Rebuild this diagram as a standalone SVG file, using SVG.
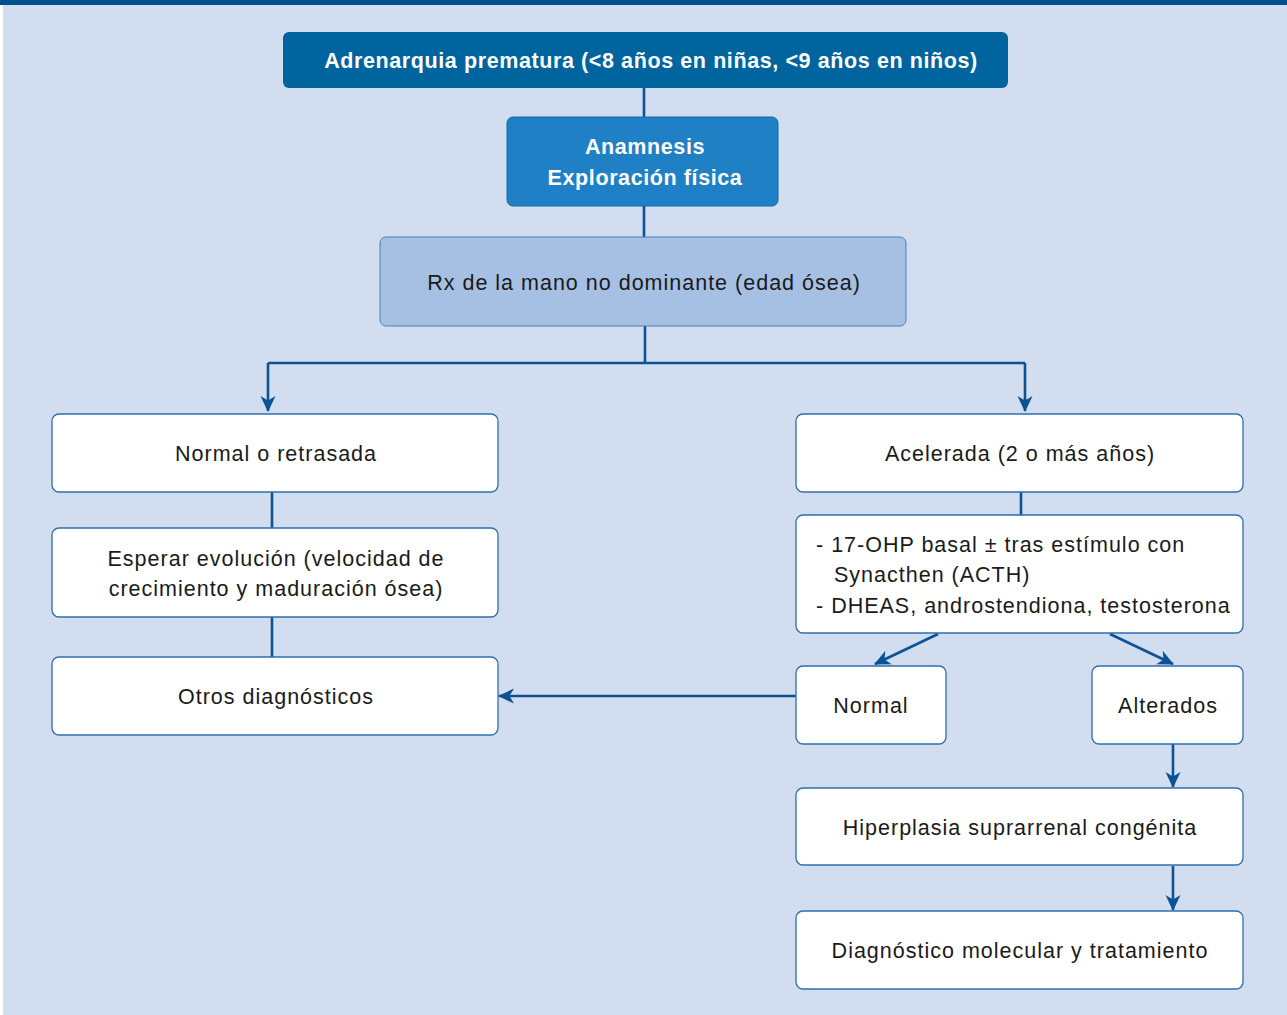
<svg xmlns="http://www.w3.org/2000/svg" width="1287" height="1015" viewBox="0 0 1287 1015">
<defs>
<style>
.bg{fill:#d3ddf0}
.w{fill:#ffffff;stroke:#2e6fae;stroke-width:1.3}
.t{font-family:"Liberation Sans",Arial,sans-serif;font-size:21.5px;letter-spacing:1px;fill:#1a1a1a;text-anchor:middle}
.tl{font-family:"Liberation Sans",Arial,sans-serif;font-size:21.5px;letter-spacing:1px;fill:#1a1a1a}
.tb{font-family:"Liberation Sans",Arial,sans-serif;font-size:21.5px;letter-spacing:0.6px;font-weight:bold;fill:#ffffff;text-anchor:middle}
.c{fill:none;stroke:#0d5393;stroke-width:2.6}
</style>
<marker id="ah" viewBox="0 0 16 16" refX="15" refY="8" markerWidth="16" markerHeight="16" markerUnits="userSpaceOnUse" orient="auto">
<path d="M0,0.5 L16,8 L0,15.5 L4.5,8 z" fill="#0d5393"/>
</marker>
</defs>
<rect x="0" y="0" width="1287" height="1015" fill="#ffffff"/>
<rect x="3" y="0" width="1284" height="1015" class="bg"/>
<rect x="0" y="0" width="1287" height="5" fill="#00508f"/>

<g id="connectors">
<path class="c" d="M644,88 V117"/>
<path class="c" d="M644,206 V237"/>
<path class="c" d="M645,326 V363 M268,363 H1025"/>
<path class="c" d="M268,363 V411" marker-end="url(#ah)"/>
<path class="c" d="M1025,363 V411" marker-end="url(#ah)"/>
<path class="c" d="M272,492 V528"/>
<path class="c" d="M272,617 V657"/>
<path class="c" d="M1021,492 V515"/>
<path class="c" d="M938,634 L875,664" marker-end="url(#ah)"/>
<path class="c" d="M1110,634 L1173,664" marker-end="url(#ah)"/>
<path class="c" d="M796,696 H499" marker-end="url(#ah)"/>
<path class="c" d="M1173,744 V787" marker-end="url(#ah)"/>
<path class="c" d="M1173,866 V910" marker-end="url(#ah)"/>
</g>

<g id="n1">
<rect x="283" y="32" width="725" height="56" rx="6" fill="#00649f"/>
<text class="tb" x="651" y="68">Adrenarquia prematura (&lt;8 años en niñas, &lt;9 años en niños)</text>
</g>
<g id="n2">
<rect x="507" y="117" width="271" height="89" rx="6" fill="#1f80c6" stroke="#1468a8" stroke-width="1"/>
<text class="tb" x="645" y="154">Anamnesis</text>
<text class="tb" x="645" y="185">Exploración física</text>
</g>
<g id="n3">
<rect x="380" y="237" width="526" height="89" rx="6" fill="#a6c0e4" stroke="#4d7fba" stroke-width="1"/>
<text class="t" x="644" y="290">Rx de la mano no dominante (edad ósea)</text>
</g>
<g id="n4">
<rect class="w" x="52" y="414" width="446" height="78" rx="7"/>
<text class="t" x="276" y="461">Normal o retrasada</text>
</g>
<g id="n5">
<rect class="w" x="52" y="528" width="446" height="89" rx="7"/>
<text class="t" x="276" y="566">Esperar evolución (velocidad de</text>
<text class="t" x="276" y="596">crecimiento y maduración ósea)</text>
</g>
<g id="n6">
<rect class="w" x="52" y="657" width="446" height="78" rx="7"/>
<text class="t" x="276" y="704">Otros diagnósticos</text>
</g>
<g id="n7">
<rect class="w" x="796" y="414" width="447" height="78" rx="7"/>
<text class="t" x="1020" y="461">Acelerada (2 o más años)</text>
</g>
<g id="n8">
<rect class="w" x="796" y="515" width="447" height="118" rx="7"/>
<text class="tl" x="816" y="552">- 17-OHP basal ± tras estímulo con</text>
<text class="tl" x="834" y="582">Synacthen (ACTH)</text>
<text class="tl" x="816" y="613">- DHEAS, androstendiona, testosterona</text>
</g>
<g id="n9">
<rect class="w" x="796" y="666" width="150" height="78" rx="7"/>
<text class="t" x="871" y="713">Normal</text>
</g>
<g id="n10">
<rect class="w" x="1092" y="666" width="151" height="78" rx="7"/>
<text class="t" x="1168" y="713">Alterados</text>
</g>
<g id="n11">
<rect class="w" x="796" y="788" width="447" height="77" rx="7"/>
<text class="t" x="1020" y="835">Hiperplasia suprarrenal congénita</text>
</g>
<g id="n12">
<rect class="w" x="796" y="911" width="447" height="78" rx="7"/>
<text class="t" x="1020" y="958">Diagnóstico molecular y tratamiento</text>
</g>
</svg>
